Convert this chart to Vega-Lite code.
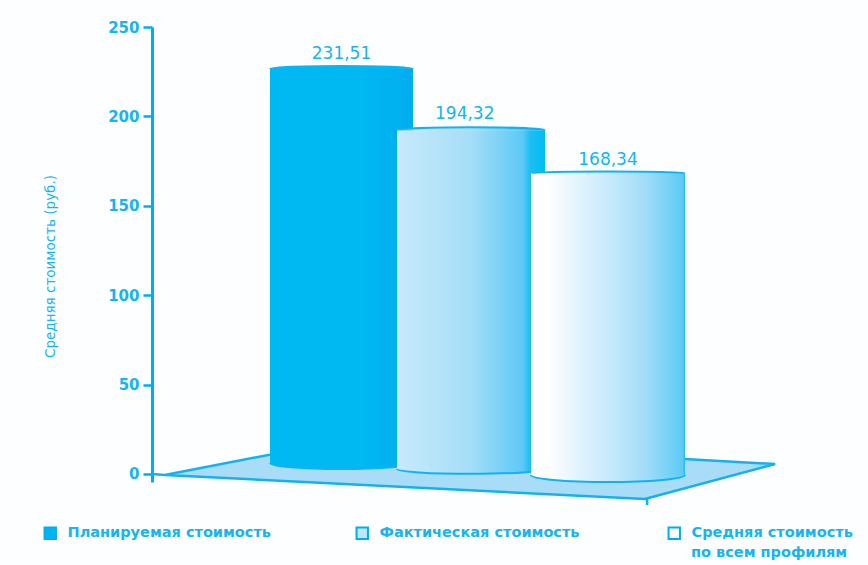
{
  "$schema": "https://vega.github.io/schema/vega-lite/v6.json",
  "width": 716,
  "height": 455,
  "autosize": {"type": "none"},
  "padding": {"left": 152, "top": 27, "right": 0, "bottom": 83},
  "background": "#fdfeff",
  "data": {
    "values": [
      {"series": "Планируемая стоимость", "value": 231.51, "label": "231,51"},
      {"series": "Фактическая стоимость", "value": 194.32, "label": "194,32"},
      {"series": "Средняя стоимость по всем профилям", "value": 168.34, "label": "168,34"}
    ]
  },
  "config": {
    "view": {"stroke": null},
    "text": {"font": "DejaVu Sans", "fontSize": 17, "fill": "#16b4f1"}
  },
  "resolve": {"scale": {"y": "independent"}},
  "layer": [
    {
      "layer": [
        {
          "transform": [{"filter": "datum.series == 'Фактическая стоимость'"}],
          "mark": {
            "type": "point",
            "filled": true,
            "fill": "#a9dcf7",
            "stroke": "#12b2f0",
            "strokeWidth": 2.5,
            "opacity": 1,
            "shape": "M-1.042,0 L-1,0.003 L-0.412,-0.11 L0.969,-0.032 L0.549,0.081 L-1,0.003 Z M0.556,0.081 L0.556,0.1",
            "size": 384400
          },
          "encoding": {
            "x": {"field": "series", "type": "nominal", "sort": null, "axis": null,
              "scale": {"type": "point", "range": [189.5, 456], "padding": 0,
                "domain": ["Планируемая стоимость", "Фактическая стоимость", "Средняя стоимость по всем профилям"]}},
            "y": {"datum": 0, "type": "quantitative",
              "scale": {"domain": [-4.5, 250], "nice": false, "zero": false},
              "axis": {
                "values": [0, 50, 100, 150, 200, 250],
                "grid": false,
                "title": "Средняя стоимость (руб.)",
                "titleFont": "DejaVu Sans",
                "titleFontSize": 13.5,
                "titleFontWeight": "normal",
                "titleColor": "#16b4f1",
                "titleX": -95,
                "titleY": 239,
                "labelFont": "DejaVu Sans",
                "labelFontSize": 15,
                "labelFontWeight": "bold",
                "labelColor": "#16b4f1",
                "labelPadding": 4,
                "tickSize": 9,
                "tickWidth": 2.5,
                "tickColor": "#00aeef",
                "domainColor": "#00aeef",
                "domainWidth": 3
              }}
          }
        },
        {
          "transform": [{"filter": "datum.series == 'Средняя стоимость по всем профилям'"}],
          "mark": {"type": "text", "align": "left", "baseline": "middle", "dx": 83,
            "font": "DejaVu Sans", "fontSize": 14.5, "fontWeight": "bold", "text": "по всем профилям"},
          "encoding": {
            "x": {"field": "series", "type": "nominal", "sort": null, "axis": null},
            "y": {"datum": -44.2, "type": "quantitative"}
          }
        }
      ]
    },
    {
      "encoding": {
        "x": {"field": "series", "type": "nominal", "sort": null, "axis": null},
        "y": {"field": "value", "type": "quantitative", "axis": null,
          "scale": {"domain": [0, 250], "range": [423.1, 11.6], "nice": false, "zero": false}}
      },
      "layer": [
        {
          "mark": {"type": "bar", "width": 140},
          "encoding": {
            "y2": {"datum": 0},
            "color": {
              "field": "series",
              "type": "nominal",
              "sort": null,
              "scale": {
                "domain": ["Планируемая стоимость", "Фактическая стоимость", "Средняя стоимость по всем профилям"],
                "range": ["#00b4f0", "#bfe7fb", "#ffffff"]
              },
              "legend": {
                "orient": "none",
                "legendX": -109,
                "legendY": 499,
                "direction": "horizontal",
                "columns": 3,
                "title": null,
                "symbolType": "square",
                "symbolSize": 130,
                "symbolStrokeColor": "#00aeef",
                "symbolStrokeWidth": 2,
                "labelFont": "DejaVu Sans",
                "labelFontSize": 14.5,
                "labelFontWeight": "bold",
                "labelColor": "#16b4f1",
                "labelLimit": 400,
                "labelOffset": 10,
                "columnPadding": 81,
                "gridAlign": "all",
                "labelExpr": "datum.label == 'Средняя стоимость по всем профилям' ? 'Средняя стоимость' : datum.label"
              }
            }
          }
        },
        {
          "transform": [{"filter": "datum.series == 'Планируемая стоимость'"}],
          "layer": [
            {
              "mark": {"type": "bar", "width": 143,
                "fill": {"gradient": "linear", "stops": [
                  {"offset": 0, "color": "#00b8f2"}, {"offset": 0.65, "color": "#00b8f2"}, {"offset": 1, "color": "#00adef"}]}},
              "encoding": {"y2": {"datum": -7.8}}
            },
            {
              "mark": {"type": "point", "filled": true, "opacity": 1, "size": 20449,
                "shape": "M-1,0 C-1,0.046 -0.55,0.084 0,0.084 C0.55,0.084 1,0.046 1,0",
                "fill": {"gradient": "linear", "stops": [
                  {"offset": 0, "color": "#00b8f2"}, {"offset": 0.65, "color": "#00b8f2"}, {"offset": 1, "color": "#00adef"}]},
                "stroke": "#12b2f0", "strokeWidth": 2},
              "encoding": {"y": {"datum": -7.8}}
            },
            {
              "mark": {"type": "point", "filled": true, "opacity": 1, "size": 20449,
                "shape": "M-1,0 C-1,-0.023 -0.55,-0.042 0,-0.042 C0.55,-0.042 1,-0.023 1,0",
                "fill": "#00b8f2", "stroke": "#12b2f0", "strokeWidth": 2}
            },
            {
              "mark": {"type": "text", "align": "center", "baseline": "bottom", "dy": -6},
              "encoding": {"text": {"field": "label"}}
            }
          ]
        },
        {
          "transform": [{"filter": "datum.series == 'Фактическая стоимость'"}],
          "layer": [
            {
              "mark": {"type": "bar", "width": 148, "xOffset": -3.75,
                "fill": {"gradient": "linear", "stops": [
                  {"offset": 0, "color": "#c8e9fb"}, {"offset": 0.5, "color": "#a5def8"},
                  {"offset": 0.85, "color": "#5cc9f5"}, {"offset": 0.9, "color": "#1cbef3"}, {"offset": 1, "color": "#00bdf2"}]}},
              "encoding": {"y2": {"datum": -11.5}}
            },
            {
              "mark": {"type": "point", "filled": true, "opacity": 1, "size": 21904, "xOffset": -3.75,
                "shape": "M-1,0 C-1,0.035 -0.55,0.065 0,0.065 C0.55,0.065 1,0.035 1,0",
                "fill": {"gradient": "linear", "stops": [
                  {"offset": 0, "color": "#c8e9fb"}, {"offset": 0.5, "color": "#a5def8"},
                  {"offset": 0.85, "color": "#5cc9f5"}, {"offset": 0.9, "color": "#1cbef3"}, {"offset": 1, "color": "#00bdf2"}]},
                "stroke": "#12b2f0", "strokeWidth": 2},
              "encoding": {"y": {"datum": -11.5}}
            },
            {
              "mark": {"type": "point", "filled": true, "opacity": 1, "size": 21904, "xOffset": -3.75,
                "shape": "M-1,0 C-1,-0.022 -0.55,-0.04 0,-0.04 C0.55,-0.04 1,-0.022 1,0",
                "fill": {"gradient": "linear", "stops": [
                  {"offset": 0, "color": "#c8e9fb"}, {"offset": 0.5, "color": "#a5def8"},
                  {"offset": 0.85, "color": "#5cc9f5"}, {"offset": 1, "color": "#00bdf2"}]},
                "stroke": "#12b2f0", "strokeWidth": 2}
            },
            {
              "mark": {"type": "text", "align": "center", "baseline": "bottom", "dy": -7, "xOffset": -10},
              "encoding": {"text": {"field": "label"}}
            }
          ]
        },
        {
          "transform": [{"filter": "datum.series == 'Средняя стоимость по всем профилям'"}],
          "layer": [
            {
              "mark": {"type": "bar", "width": 154,
                "fill": {"gradient": "linear", "stops": [
                  {"offset": 0, "color": "#ffffff"}, {"offset": 0.1, "color": "#ffffff"}, {"offset": 0.3, "color": "#e3f4fd"},
                  {"offset": 0.55, "color": "#c0e8fb"}, {"offset": 0.75, "color": "#a0dcf8"},
                  {"offset": 0.985, "color": "#5ccbf6"}, {"offset": 1, "color": "#1fb9f2"}]}},
              "encoding": {"y2": {"datum": -15.1}}
            },
            {
              "mark": {"type": "point", "filled": true, "opacity": 1, "size": 23716,
                "shape": "M-1,0 C-1,0.05 -0.55,0.091 0,0.091 C0.55,0.091 1,0.05 1,0",
                "fill": {"gradient": "linear", "stops": [
                  {"offset": 0, "color": "#ffffff"}, {"offset": 0.1, "color": "#ffffff"}, {"offset": 0.3, "color": "#e3f4fd"},
                  {"offset": 0.55, "color": "#c0e8fb"}, {"offset": 0.75, "color": "#a0dcf8"},
                  {"offset": 1, "color": "#5ccbf6"}]},
                "stroke": "#12b2f0", "strokeWidth": 2},
              "encoding": {"y": {"datum": -15.1}}
            },
            {
              "mark": {"type": "point", "filled": true, "opacity": 1, "size": 23716,
                "shape": "M-1,0 C-1,-0.011 -0.55,-0.02 0,-0.02 C0.55,-0.02 1,-0.011 1,0",
                "fill": {"gradient": "linear", "stops": [
                  {"offset": 0, "color": "#ffffff"}, {"offset": 0.1, "color": "#ffffff"}, {"offset": 0.3, "color": "#e3f4fd"},
                  {"offset": 0.55, "color": "#c0e8fb"}, {"offset": 0.75, "color": "#a0dcf8"},
                  {"offset": 1, "color": "#5ccbf6"}]},
                "stroke": "#12b2f0", "strokeWidth": 2}
            },
            {
              "mark": {"type": "text", "align": "center", "baseline": "bottom", "dy": -4},
              "encoding": {"text": {"field": "label"}}
            }
          ]
        }
      ]
    }
  ]
}
